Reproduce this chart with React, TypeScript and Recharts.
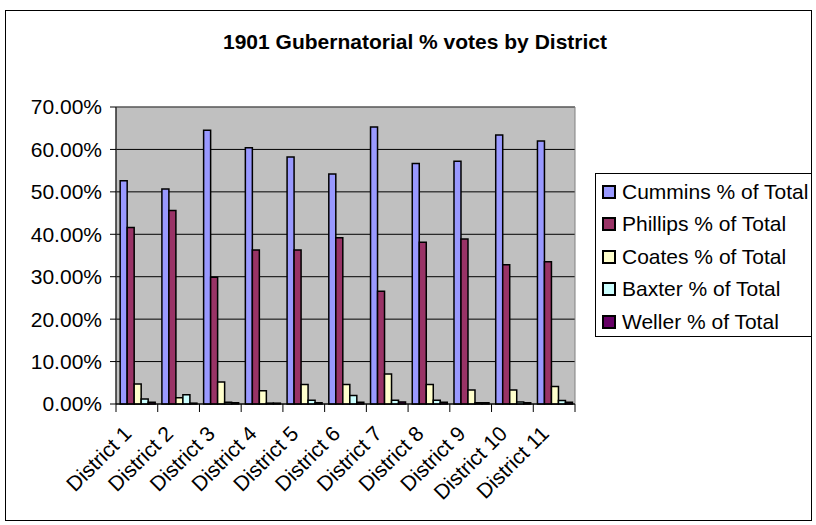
import React from 'react';
import { BarChart, Bar, XAxis, YAxis, CartesianGrid, ReferenceArea } from 'recharts';

const districts = ['District 1', 'District 2', 'District 3', 'District 4', 'District 5', 'District 6', 'District 7', 'District 8', 'District 9', 'District 10', 'District 11'];
const cummins = [52.6, 50.7, 64.5, 60.4, 58.2, 54.2, 65.3, 56.7, 57.2, 63.4, 62.0];
const phillips = [41.6, 45.6, 29.9, 36.3, 36.3, 39.2, 26.6, 38.1, 38.9, 32.8, 33.5];
const coates = [4.7, 1.5, 5.2, 3.1, 4.6, 4.6, 7.1, 4.6, 3.3, 3.3, 4.1];
const baxter = [1.2, 2.2, 0.4, 0.2, 0.9, 2.0, 0.9, 0.9, 0.3, 0.5, 0.8];
const weller = [0.4, 0.2, 0.3, 0.2, 0.3, 0.4, 0.5, 0.4, 0.3, 0.3, 0.4];

const seriesKeys = ['cummins', 'phillips', 'coates', 'baxter', 'weller'];
const seriesNames = ['Cummins % of Total', 'Phillips % of Total', 'Coates % of Total', 'Baxter % of Total', 'Weller % of Total'];
const seriesColors = ['#9999FF', '#993366', '#FFFFCC', '#CCFFFF', '#660066'];
const yTicks = [0, 10, 20, 30, 40, 50, 60, 70];
const boundaryTicks = districts.map((_, i) => i).concat([districts.length]);
const title = '1901 Gubernatorial % votes by District';

const data = districts.map((d, i) => ({
  district: d,
  pos: i + 0.5,
  cummins: cummins[i],
  phillips: phillips[i],
  coates: coates[i],
  baxter: baxter[i],
  weller: weller[i],
}));

const FONT = '"Liberation Sans", Arial, sans-serif';

const XTick = (props: any) => {
  const { x, y, payload } = props;
  return (
    <g transform={`translate(${x - 4},${y + 30})`}>
      <text x={0} y={0} textAnchor="end" transform="rotate(-45)" fontSize={21} fontFamily={FONT} fill="#000">
        {payload.value}
      </text>
    </g>
  );
};

const EmptyTick = () => <g />;

export default function App() {
  return (
    <div style={{ position: 'absolute', left: 0, top: 0, width: 816, height: 525, fontFamily: FONT, background: '#fff' }}>
      <div style={{ position: 'absolute', left: 5, top: 10, width: 807, height: 511, border: '1px solid #000', boxSizing: 'border-box' }} />
      <div style={{ position: 'absolute', left: 5, top: 30, width: 820, textAlign: 'center', fontWeight: 'bold', fontSize: 21, color: '#000' }}>
        {title}
      </div>
      <div style={{ position: 'absolute', left: 0, top: 0 }}>
        <BarChart width={816} height={525} data={data} margin={{ top: 107, right: 241, bottom: 0, left: 0 }} barCategoryGap="10%" barGap={0}>
          <CartesianGrid xAxisId="cat" vertical={false} stroke="#000" strokeWidth={1} fill="#C0C0C0" fillOpacity={1} />
          <XAxis xAxisId="b" type="number" dataKey="pos" domain={[0, districts.length]} ticks={boundaryTicks} height={1} tickSize={8} tick={<EmptyTick />} axisLine={{ stroke: '#000', strokeWidth: 1 }} tickLine={{ stroke: '#000' }} allowDataOverflow interval={0} />
          <XAxis xAxisId="cat" dataKey="district" height={120} interval={0} tickSize={0} tickMargin={0} tickLine={false} axisLine={false} tick={<XTick />} />
          <YAxis domain={[0, 70]} ticks={yTicks} width={116} tickSize={6} tickMargin={8} interval={0}
            tickFormatter={(v: number) => `${v.toFixed(2)}%`} axisLine={{ stroke: '#000' }} tickLine={{ stroke: '#000' }}
            tick={{ fill: '#000', fontSize: 21, fontFamily: FONT }} />
          <ReferenceArea xAxisId="cat" y1={0} y2={70} fill="none" fillOpacity={0} stroke="#808080" strokeWidth={1} ifOverflow="extendDomain" />
          {seriesKeys.map((k, i) => (
            <Bar key={k} xAxisId="cat" dataKey={k} name={seriesNames[i]} fill={seriesColors[i]} stroke="#000" strokeWidth={1.5} isAnimationActive={false} />
          ))}
        </BarChart>
      </div>
      <div style={{ position: 'absolute', left: 595, top: 173, width: 217, height: 164, border: '1px solid #000', boxSizing: 'border-box', background: '#fff' }}>
        {seriesNames.map((n, i) => (
          <div key={n} style={{ position: 'absolute', left: 0, top: 2 + i * 32.4, height: 32, display: 'flex', alignItems: 'center', whiteSpace: 'nowrap' }}>
            <span style={{ display: 'inline-block', width: 10, height: 10, border: '2px solid #000', background: seriesColors[i], marginLeft: 6, marginRight: 6 }} />
            <span style={{ fontSize: 21, color: '#000' }}>{n}</span>
          </div>
        ))}
      </div>
    </div>
  );
}
